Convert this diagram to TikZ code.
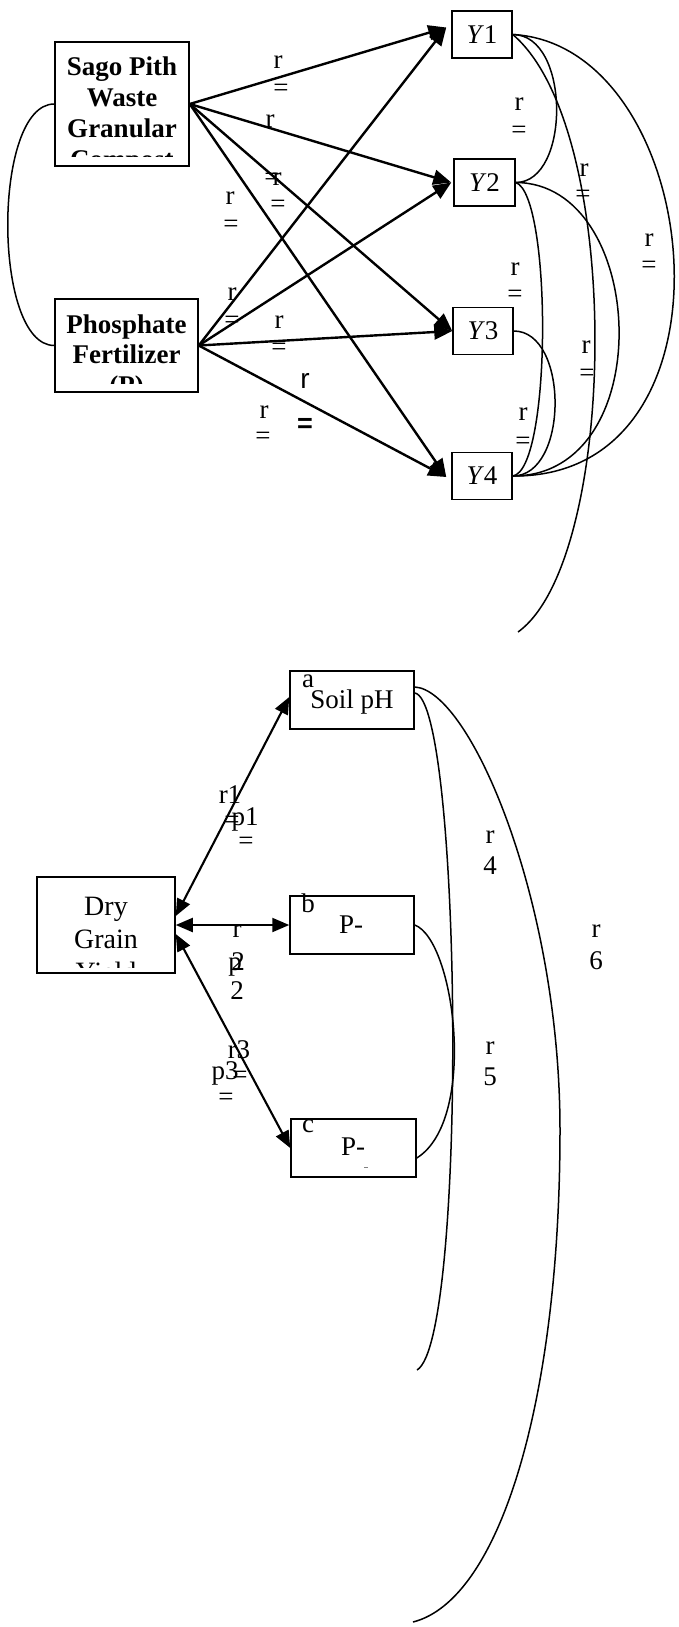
\documentclass[tikz,border=0pt]{standalone}
\usepackage{fontspec}
\setmainfont{Liberation Serif}
\newfontfamily\lsans{Liberation Sans}
\usetikzlibrary{arrows.meta}
\begin{document}
\begin{tikzpicture}[x=1pt,y=-1pt,
  box/.style={draw,line width=1.5pt,inner sep=0pt},
  ybox/.style={box,minimum width=60pt,minimum height=47pt,font=\fontsize{27}{31}\selectfont},
  txt/.style={inner sep=0pt,anchor=base,font=\fontsize{27}{31}\selectfont},
  btxt/.style={inner sep=0pt,anchor=base,font=\fontsize{27}{31}\selectfont\bfseries},
  dtxt/.style={inner sep=0pt,anchor=base,font=\fontsize{28}{33}\selectfont},
  lab/.style={inner sep=0pt,font=\fontsize{27}{31}\selectfont},
  arr/.style={line width=2.4pt,-{Triangle[length=18pt,width=15pt]}},
  barr/.style={line width=2.1pt,{Triangle[length=17pt,width=14pt]}-{Triangle[length=17pt,width=14pt]}},
  cur/.style={line width=1.5pt}]
\useasboundingbox (0,0) rectangle (679,1627);

% ---------- top diagram: boxes ----------
\node[box,minimum width=134pt,minimum height=124pt] (sago) at (122,104) {};
\node[box,minimum width=143pt,minimum height=93pt] (phos) at (126.5,345.5) {};
\node[ybox] (Y1) at (482,34.5) {\textit{Y}1};
\node[ybox,minimum width=61pt] (Y2) at (484.5,182.5) {\textit{Y}2};
\node[ybox] (Y3) at (483,331) {\textit{Y}3};
\node[ybox] (Y4) at (482,476) {\textit{Y}4};

\begin{scope}
  \clip (56,43) rectangle (188,156);
  \node[btxt] at (122,76) {Sago Pith};
  \node[btxt] at (122,107) {Waste};
  \node[btxt] at (122,137.5) {Granular};
  \node[btxt] at (122,168) {Compost};
\end{scope}
\begin{scope}
  \clip (56,300) rectangle (197,383);
  \node[btxt] at (126.5,333) {Phosphate};
  \node[btxt] at (126.5,363.5) {Fertilizer};
  \node[btxt] at (126.5,394) {(P)};
\end{scope}

% ---------- top labels ----------
\node[lab] at (278,62) {r};   \node[lab] at (281,90) {=};
\node[lab] at (270,121) {r};
\node[lab] at (272,179) {=};  \node[lab] at (277,179) {r};
\node[lab] at (278,206) {=};
\node[lab] at (230,198) {r};  \node[lab] at (231,226) {=};
\node[lab] at (232,294) {r};  \node[lab] at (232,322) {=};
\node[lab] at (279,322) {r};  \node[lab] at (279,349) {=};
\node[lab,font=\fontsize{28}{31}\selectfont\lsans] at (305,381) {r};
\node[lab,font=\fontsize{27}{31}\selectfont\lsans\bfseries] at (305,425) {=};
\node[lab] at (264,412) {r};  \node[lab] at (263,438) {=};
\node[lab] at (519,104) {r};  \node[lab] at (519,132) {=};
\node[lab] at (584,170) {r};  \node[lab] at (583,196) {=};
\node[lab] at (649,240) {r};  \node[lab] at (649,267) {=};
\node[lab] at (515,269) {r};  \node[lab] at (515,296) {=};
\node[lab] at (586,347) {r};  \node[lab] at (587,375) {=};
\node[lab] at (523,414) {r};  \node[lab] at (523,443) {=};

% ---------- top arrows ----------
\draw[arr] (sago.east) -- ([xshift=-5pt,yshift=7pt]Y1.west);
\draw[arr] (phos.east) -- ([xshift=-5pt,yshift=7pt]Y1.west);
\draw[arr] (sago.east) -- ([xshift=-2pt]Y2.west);
\draw[arr] (phos.east) -- ([xshift=-2pt]Y2.west);
\draw[arr] (sago.east) -- (Y3.west);
\draw[arr] (phos.east) -- (Y3.west);
\draw[arr] (sago.east) -- ([xshift=-5pt,yshift=-1pt]Y4.west);
\draw[arr] (phos.east) -- ([xshift=-5pt,yshift=-1pt]Y4.west);

% ---------- top curves ----------
\coordinate (fe1) at (518,632);
\draw[cur] (sago.west) .. controls +(-62,0) and +(-62,0) .. (phos.west);
\draw[cur] (Y1.east) .. controls +(58,0) and +(55,0) .. (Y2.east);
\draw[cur] (Y1.east) .. controls (625,130) and (618,560) .. (fe1);
\draw[cur] (Y1.east) .. controls (705,45) and (750,478) .. (Y4.east);
\draw[cur] (Y2.east) .. controls (648,183) and (660,476) .. (Y4.east);
\draw[cur] (Y2.east) .. controls (552,195) and (552,470) .. (Y4.east);
\draw[cur] (Y3.east) .. controls (569,331) and (569,476) .. (Y4.east);

% ---------- bottom diagram: boxes ----------
\node[box,minimum width=138pt,minimum height=96pt] (dry) at (106,925) {};
\node[box,minimum width=124pt,minimum height=58pt] (soil) at (352,700) {};
\node[box,minimum width=124pt,minimum height=58pt] (b) at (352,925) {};
\node[box,minimum width=125pt,minimum height=58pt] (c) at (353.5,1148) {};

\begin{scope}
  \clip (38,878) rectangle (174,967);
  \node[dtxt] at (106,915) {Dry};
  \node[dtxt] at (106,948) {Grain};
  \node[dtxt] at (106,981.5) {Yield};
\end{scope}
\node[txt] at (352,708) {Soil pH};
\node[txt] at (308,687) {a};
\node[txt] at (351,933) {P-};
\node[txt] at (308,912) {b};
\node[txt] at (353,1155) {P-};
\node[txt] at (308,1132) {c};
\draw[line width=1pt,gray] (364,1167) -- (368,1167);

% ---------- bottom labels ----------
\node[lab] at (230,795) {r1};  \node[lab] at (232,822) {=};
\node[lab] at (245,819) {p1};  \node[lab] at (246,843) {=};
\node[lab] at (237,931) {r};   \node[lab] at (238,962) {2};
\node[lab] at (235,967) {p};   \node[lab] at (237,991) {2};
\node[lab] at (239,1050) {r3}; \node[lab] at (240,1077) {=};
\node[lab] at (225,1073) {p3}; \node[lab] at (226,1099) {=};
\node[lab] at (490,837) {r};   \node[lab] at (490,866) {4};
\node[lab] at (596,931) {r};   \node[lab] at (596,961) {6};
\node[lab] at (490,1048) {r};  \node[lab] at (490,1077) {5};

% ---------- bottom arrows ----------
\draw[barr] ([yshift=9pt]dry.east) -- ([yshift=3pt]soil.west);
\draw[barr] (dry.east) -- (b.west);
\draw[barr] ([yshift=-9pt]dry.east) -- (c.west);

% ---------- bottom curves ----------
\coordinate (fe2) at (417,1370);
\coordinate (fe3) at (413,1622);
\draw[cur] ([yshift=7pt]soil.east) .. controls (462,700) and (468,1340) .. (fe2);
\draw[cur] ([yshift=13pt]soil.east) .. controls (470,690) and (560,900) .. (560,1130)
           .. controls (560,1400) and (500,1600) .. (fe3);
\draw[cur] (b.east) .. controls (455,940) and (478,1120) .. ([yshift=-10pt]c.east);
\end{tikzpicture}
\end{document}
